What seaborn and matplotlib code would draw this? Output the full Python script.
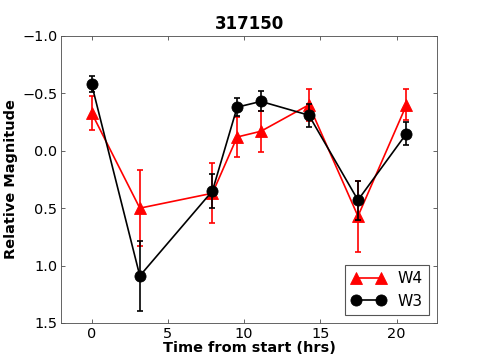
import numpy as np
import pandas as pd
import seaborn as sns
from matplotlib import pyplot as plt

# hours since start of observations
hours = [0.0, 3.16, 7.92, 9.54, 11.1, 14.24, 17.46, 20.64]

w4_mag = [-0.33, 0.50, 0.37, -0.12, -0.17, -0.40, 0.57, -0.40]
w4_err = [0.145, 0.33, 0.26, 0.175, 0.18, 0.14, 0.31, 0.135]

w3_mag = [-0.58, 1.09, 0.35, -0.38, -0.43, -0.31, 0.43, -0.15]
w3_err = [0.07, 0.305, 0.15, 0.08, 0.087, 0.10, 0.17, 0.10]

sns.set_style("ticks")
plt.rcParams['font.family'] = ['DejaVu Sans']
plt.rcParams['text.color'] = 'black'
plt.rcParams['axes.labelcolor'] = 'black'
plt.rcParams['xtick.color'] = 'black'
plt.rcParams['ytick.color'] = 'black'

fig, ax = plt.subplots(figsize=(6.0625, 4.5), dpi=80)
fig.subplots_adjust(left=0.126, right=0.901, top=0.9, bottom=0.103)

df4 = pd.DataFrame({'t': hours, 'mag': w4_mag})
df3 = pd.DataFrame({'t': hours, 'mag': w3_mag})

ax.errorbar(hours, w4_mag, yerr=w4_err, fmt='none', ecolor='red', elinewidth=1.5, capsize=3, capthick=1.5)
sns.lineplot(data=df4, x='t', y='mag', color='red', marker='^', markersize=10, markeredgecolor='red',
             linewidth=1.5, label='W4', ax=ax)
ax.errorbar(hours, w3_mag, yerr=w3_err, fmt='none', ecolor='black', elinewidth=1.5, capsize=3, capthick=1.5)
sns.lineplot(data=df3, x='t', y='mag', color='black', marker='o', markersize=10, markeredgecolor='black',
             linewidth=1.5, label='W3', ax=ax)

ax.set_xlim(-2, hours[-1] + 2)
ax.set_ylim(1.5, -1.0)
ax.set_yticks(np.arange(-1.0, 1.51, 0.5))
ax.set_xticks([0, 5, 10, 15, 20])
ax.tick_params(direction='in', top=True, right=True, length=4, labelsize=13, color='#555555',
               labelcolor='black')
for s in ax.spines.values():
    s.set_color('#555555')
    s.set_visible(True)

ax.set_title('317150', fontsize=15, fontweight='bold', color='black')
ax.set_xlabel('Time from start (hrs)', fontsize=13, fontweight='bold', labelpad=0, color='black')
ax.set_ylabel('Relative Magnitude', fontsize=13, fontweight='bold', color='black')

leg = ax.legend(loc='lower right', numpoints=2, fontsize=14, fancybox=False, framealpha=1,
                edgecolor='#555555', handlelength=2.2)
for t in leg.get_texts():
    t.set_color('black')

plt.savefig('out.png', dpi=80)
